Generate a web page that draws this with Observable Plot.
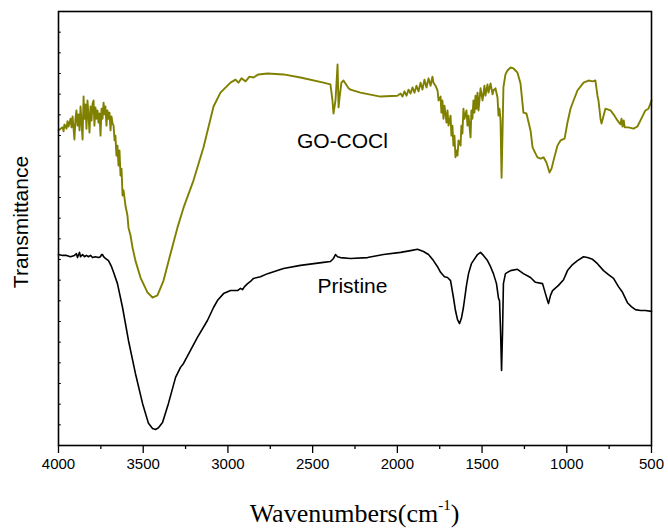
<!DOCTYPE html>
<html>
<head>
<meta charset="utf-8">
<script src="https://cdn.jsdelivr.net/npm/d3@7"></script>
<script src="https://cdn.jsdelivr.net/npm/@observablehq/plot@0.6"></script>
<style>
  body { margin: 0; background: #fff; }
  #chart svg { display: block; }
</style>
</head>
<body>
<div id="chart"></div>
<script>
// FTIR spectra: [wavenumber (cm^-1), transmittance (a.u.)]
const goCOCl = [
  [4000,72.6],[3988,73.0],[3976,73.3],[3970,72.4],[3965,74.0],[3953,73.0],[3947,74.7],[3941,73.5],
  [3929,75.3],[3923,73.3],[3917,75.8],[3906,70.5],[3900,75.3],[3894,77.2],[3888,73.7],[3882,76.3],
  [3876,72.6],[3870,78.1],[3864,74.4],[3858,70.5],[3852,80.4],[3847,75.3],[3841,78.6],[3835,73.0],
  [3829,79.5],[3823,76.0],[3817,72.1],[3811,78.1],[3805,74.9],[3799,78.8],[3793,79.5],[3788,73.7],
  [3782,77.9],[3776,75.3],[3770,77.2],[3764,74.4],[3758,76.5],[3752,71.4],[3746,77.6],[3740,75.3],
  [3734,79.0],[3728,76.3],[3723,78.1],[3717,73.7],[3711,77.2],[3705,75.3],[3699,76.7],[3693,72.6],
  [3687,75.8],[3681,74.2],[3675,73.7],[3669,70.3],[3664,71.4],[3658,66.8],[3652,69.1],[3646,64.5],
  [3640,68.0],[3634,62.2],[3628,63.8],[3622,57.6],[3616,58.8],[3605,55.3],[3593,53.0],[3587,50.2],
  [3575,48.4],[3563,45.6],[3546,42.6],[3516,38.7],[3475,35.3],[3445,34.1],[3416,34.6],[3380,38.0],
  [3339,44.2],[3298,50.2],[3262,54.8],[3203,61.1],[3144,68.7],[3085,78.1],[3044,81.3],[2985,83.6],
  [2955,84.3],[2938,83.6],[2920,84.6],[2896,83.9],[2873,85.0],[2849,84.8],[2820,85.5],[2766,85.7],
  [2672,85.5],[2572,84.8],[2436,83.6],[2395,83.2],[2383,79.5],[2377,76.5],[2365,79.5],[2353,87.8],
  [2347,77.9],[2341,80.2],[2330,83.6],[2318,84.1],[2288,82.3],[2277,82.0],[2218,81.3],[2100,80.4],
  [2000,80.6],[1981,81.1],[1970,80.4],[1958,81.6],[1946,80.6],[1934,82.0],[1922,81.1],[1911,82.5],
  [1899,81.3],[1887,82.9],[1875,81.6],[1863,83.6],[1852,82.0],[1840,84.3],[1828,82.5],[1816,84.6],
  [1804,82.9],[1793,85.0],[1787,83.6],[1775,82.9],[1763,81.8],[1757,79.5],[1745,80.4],[1740,76.7],
  [1734,79.5],[1728,75.3],[1722,78.3],[1710,74.4],[1704,77.2],[1698,73.7],[1686,76.0],[1681,71.4],
  [1675,73.7],[1669,69.1],[1663,71.4],[1657,66.4],[1651,68.0],[1645,66.8],[1639,70.3],[1627,69.1],
  [1622,73.7],[1616,71.9],[1610,77.6],[1604,75.3],[1592,77.2],[1586,73.7],[1580,76.0],[1568,71.0],
  [1563,77.2],[1557,75.3],[1551,79.5],[1545,76.7],[1539,80.6],[1533,77.6],[1527,81.3],[1521,77.2],
  [1509,82.3],[1497,79.5],[1486,82.9],[1480,80.6],[1468,83.2],[1462,81.3],[1450,83.4],[1438,80.9],
  [1433,81.8],[1421,82.3],[1409,80.2],[1403,76.0],[1397,77.6],[1391,74.9],[1385,61.7],[1379,72.6],
  [1374,82.5],[1362,85.5],[1350,86.4],[1332,87.1],[1315,86.9],[1303,86.4],[1291,85.9],[1273,83.4],
  [1256,76.7],[1238,76.5],[1214,72.6],[1202,68.7],[1185,67.3],[1173,66.4],[1155,66.1],[1137,66.4],
  [1120,65.2],[1102,62.9],[1090,63.8],[1078,65.7],[1055,69.1],[1037,70.3],[1013,70.7],[996,74.4],
  [978,77.6],[960,79.5],[937,81.8],[901,83.6],[872,84.1],[848,83.9],[831,84.1],[819,80.6],
  [813,79.5],[801,75.3],[795,74.2],[783,76.0],[772,77.6],[742,77.2],[724,76.3],[701,74.9],
  [683,74.0],[677,75.3],[671,73.5],[664,74.9],[658,73.3],[636,73.3],[606,73.0],[583,73.5],
  [565,74.9],[536,77.2],[518,77.6],[500,79.5]
];

const pristine = [
  [4000,44.0],[3976,43.8],[3953,43.8],[3929,43.5],[3906,43.8],[3894,44.2],[3888,43.3],[3876,44.5],
  [3870,43.5],[3858,44.0],[3847,43.5],[3835,43.8],[3823,43.5],[3811,43.8],[3799,43.3],[3782,43.5],
  [3764,43.3],[3752,43.5],[3746,44.0],[3740,44.0],[3734,43.5],[3723,43.1],[3705,42.6],[3687,41.2],
  [3675,39.9],[3652,37.3],[3622,31.8],[3587,24.2],[3546,16.6],[3504,9.7],[3469,5.1],[3445,3.9],
  [3427,3.7],[3410,4.1],[3386,5.3],[3351,9.7],[3309,15.7],[3280,18.0],[3262,18.9],[3221,21.9],
  [3180,24.9],[3121,28.8],[3085,31.8],[3062,33.4],[3026,35.0],[2985,35.7],[2943,35.7],[2926,36.2],
  [2914,35.9],[2902,36.6],[2884,37.3],[2867,37.8],[2849,38.5],[2808,38.9],[2766,39.6],[2672,40.8],
  [2572,41.5],[2436,42.2],[2395,42.4],[2377,43.1],[2365,44.0],[2353,43.5],[2336,43.3],[2277,43.1],
  [2176,43.3],[2082,44.0],[1981,44.5],[1922,44.9],[1881,45.2],[1846,44.7],[1816,44.0],[1787,42.6],
  [1763,41.2],[1745,39.9],[1722,38.9],[1704,38.7],[1686,38.0],[1669,34.1],[1657,31.1],[1645,29.0],
  [1633,28.1],[1622,29.3],[1610,31.8],[1592,36.9],[1580,39.6],[1563,41.9],[1551,42.6],[1527,44.0],
  [1509,44.5],[1492,43.8],[1468,42.6],[1450,41.2],[1433,39.6],[1415,37.3],[1403,33.9],[1397,33.4],
  [1391,26.5],[1385,17.3],[1379,26.5],[1374,37.3],[1362,39.6],[1332,40.3],[1291,40.6],[1256,39.6],
  [1214,38.7],[1185,37.6],[1143,37.3],[1126,35.0],[1114,33.4],[1108,32.7],[1096,34.6],[1084,35.7],
  [1049,36.9],[1019,38.2],[996,40.3],[966,41.7],[937,42.6],[901,43.5],[878,43.3],[848,42.9],
  [819,41.9],[783,40.3],[754,39.4],[724,38.5],[695,36.6],[671,35.3],[642,32.9],[619,32.0],
  [595,31.3],[565,31.1],[536,31.1],[500,30.9]
];

const xTicks = [4000, 3500, 3000, 2500, 2000, 1500, 1000, 500];
const xMinorTicks = [3750, 3250, 2750, 2250, 1750, 1250, 750];
const yMinorTicks = d3.range(0, 22).map(k => k * 100 / 21);
const annotations = [
  {label: "GO-COCl", wn: 2324, t: 70.2},
  {label: "Pristine", wn: 2265, t: 36.7}
];
const xLabel = "Wavenumbers(cm";
const xLabelSup = "-1";
const yLabel = "Transmittance";

const sans = "Arial, 'Liberation Sans', sans-serif";

const chart = Plot.plot({
  width: 668,
  height: 530,
  marginLeft: 58,
  marginRight: 17,
  marginTop: 11,
  marginBottom: 85,
  style: {fontFamily: sans, background: "#fff", color: "#000"},
  x: {domain: [4000, 500], label: null},
  y: {domain: [0, 100], axis: null},
  marks: [
    Plot.line(goCOCl, {x: d => d[0], y: d => d[1], stroke: "#808000", strokeWidth: 1.9, strokeLinejoin: "round"}),
    Plot.line(pristine, {x: d => d[0], y: d => d[1], stroke: "#000", strokeWidth: 1.6, strokeLinejoin: "round"}),
    Plot.axisX({ticks: xTicks, tickSize: 8, tickPadding: 5, fontSize: 15, tickFormat: d => String(d), label: null, strokeWidth: 1.3}),
    Plot.axisX({ticks: xMinorTicks, tickSize: 4, tickFormat: () => "", label: null, strokeWidth: 1.3}),
    Plot.ruleY(yMinorTicks, {x1: 4000, x2: 3983, stroke: "#000", strokeWidth: 1}),
    Plot.frame({stroke: "#000", strokeWidth: 1.6}),
    Plot.text(annotations, {x: "wn", y: "t", text: "label", fontSize: 21, textAnchor: "middle", lineAnchor: "middle", fill: "#000"})
  ]
});

document.getElementById("chart").appendChild(chart);

const svg = d3.select(chart);
// x-axis title with superscript
const xt = svg.append("text")
  .attr("x", (58 + 651) / 2)
  .attr("y", 522)
  .attr("text-anchor", "middle")
  .attr("font-family", "'Times New Roman', 'Liberation Serif', serif")
  .attr("font-size", 26)
  .attr("fill", "#000");
xt.append("tspan").text(xLabel);
xt.append("tspan").attr("font-size", 15).attr("dy", -12).text(xLabelSup);
xt.append("tspan").attr("dy", 12).text(")");

// y-axis title
svg.append("text")
  .attr("transform", `translate(28, ${(11 + 445) / 2 - 6}) rotate(-90)`)
  .attr("text-anchor", "middle")
  .attr("font-family", sans)
  .attr("font-size", 21)
  .attr("fill", "#000")
  .text(yLabel);
</script>
</body>
</html>
